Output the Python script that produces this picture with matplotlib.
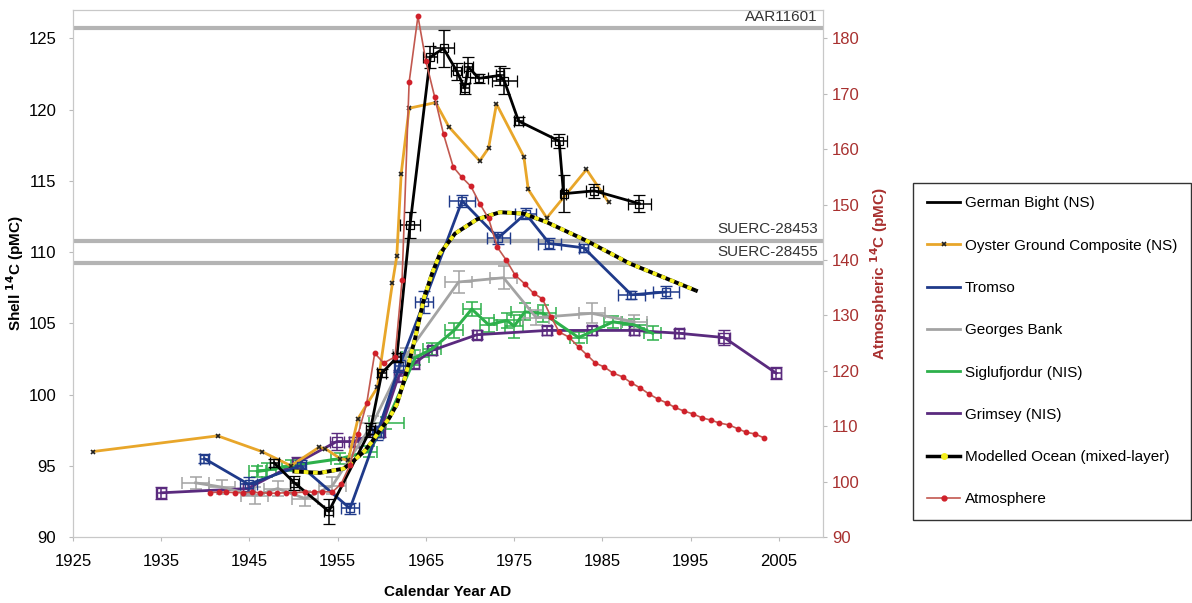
import matplotlib.pyplot as plt
from matplotlib.lines import Line2D
from matplotlib.transforms import blended_transform_factory

plt.rcParams['font.family'] = ['Liberation Sans', 'DejaVu Sans']

# German Bight (NS)
gb_year = [1947.8, 1950.1, 1954.0, 1958.7, 1960.0, 1961.7, 1963.2, 1965.5, 1967.0, 1968.5,
           1969.4, 1969.8, 1971.0, 1973.4, 1973.9, 1975.5, 1980.1, 1980.6, 1984.1, 1989.2]
gb_val = [95.2, 93.8, 91.8, 97.5, 101.5, 102.6, 111.9, 123.7, 124.3, 122.7,
          121.5, 123.0, 122.2, 122.4, 122.0, 119.2, 117.8, 114.1, 114.3, 113.4]
gb_yerr = [0.3, 0.5, 0.9, 0.5, 0.3, 0.3, 0.9, 0.8, 1.3, 0.6,
           0.4, 0.7, 0.3, 0.7, 0.9, 0.3, 0.5, 1.3, 0.5, 0.6]
gb_xerr = [0.5, 0.5, 0.5, 0.5, 0.5, 0.4, 1.1, 0.8, 1.2, 0.6,
           0.5, 0.5, 1.0, 0.5, 1.4, 0.5, 0.9, 0.3, 1.0, 1.3]

# Oyster Ground Composite (NS)
og_year = [1927.3, 1941.4, 1946.4, 1949.7, 1952.9, 1953.6, 1955.3, 1956.2, 1957.3, 1959.5,
           1961.2, 1961.7, 1962.2, 1963.1, 1966.1, 1967.6, 1971.1, 1972.1, 1973.0, 1976.1,
           1976.6, 1978.7, 1983.2, 1985.7]
og_val = [96.0, 97.1, 96.0, 95.0, 96.3, 96.2, 95.5, 95.4, 98.3, 100.5,
          107.8, 109.7, 115.5, 120.1, 120.5, 118.8, 116.4, 117.3, 120.4, 116.7,
          114.4, 112.4, 115.8, 113.5]

# Tromso
tr_year = [1939.9, 1944.9, 1950.8, 1956.4, 1959.5, 1962.0, 1964.8, 1969.1, 1973.2, 1976.3,
           1979.0, 1982.9, 1988.3, 1992.2]
tr_val = [95.5, 93.7, 95.0, 92.0, 97.3, 102.0, 106.5, 113.6, 111.0, 112.7,
          110.6, 110.3, 107.0, 107.2]
tr_yerr = [0.3, 0.5, 0.4, 0.4, 0.5, 0.4, 0.8, 0.4, 0.4, 0.4, 0.4, 0.3, 0.3, 0.4]
tr_xerr = [0.5, 1.0, 0.6, 1.0, 0.6, 0.6, 1.0, 1.5, 1.3, 1.2, 1.3, 0.5, 1.5, 1.5]

# Georges Bank
gk_year = [1938.9, 1941.9, 1945.6, 1948.2, 1951.3, 1954.4, 1959.0, 1962.8, 1968.7, 1973.8,
           1977.5, 1983.8, 1988.6]
gk_val = [93.8, 93.5, 92.9, 93.4, 92.7, 93.6, 98.0, 102.8, 107.9, 108.2,
          105.4, 105.7, 105.1]
gk_yerr = [0.4, 0.5, 0.6, 0.5, 0.5, 0.6, 0.5, 0.5, 0.8, 0.8, 0.5, 0.7, 0.5]
gk_xerr = [1.5, 1.5, 1.5, 1.5, 1.5, 1.5, 1.5, 1.5, 1.5, 1.5, 1.5, 1.5, 1.5]

# Siglufjordur (NIS)
sg_year = [1945.9, 1947.0, 1949.7, 1955.3, 1958.5, 1960.5, 1963.8, 1965.7, 1968.2, 1970.2,
           1972.1, 1974.2, 1975.0, 1976.2, 1978.3, 1982.3, 1986.2, 1988.6, 1990.7]
sg_val = [94.6, 94.7, 95.0, 95.5, 96.0, 98.0, 102.6, 103.2, 104.5, 106.0,
          104.9, 105.2, 104.8, 105.8, 105.7, 104.0, 105.1, 104.9, 104.3]
sg_yerr = [0.4, 0.5, 0.4, 0.4, 0.4, 0.4, 0.5, 0.4, 0.5, 0.5,
           0.5, 0.5, 0.8, 0.6, 0.6, 0.4, 0.4, 0.4, 0.5]
sg_xerr = [1.0, 1.0, 1.0, 1.0, 1.0, 2.0, 1.5, 1.0, 1.0, 1.0,
           1.0, 1.5, 1.0, 1.5, 1.5, 1.0, 1.0, 1.5, 1.0]

# Grimsey (NIS)
gr_year = [1935.0, 1944.8, 1950.4, 1954.9, 1956.8, 1959.8, 1961.9, 1963.7, 1965.7, 1970.8,
           1978.7, 1983.8, 1988.6, 1993.7, 1998.8, 2004.7]
gr_val = [93.1, 93.4, 95.2, 96.7, 96.7, 97.4, 101.3, 102.2, 103.1, 104.2,
          104.5, 104.5, 104.5, 104.3, 104.0, 101.5]
gr_yerr = [0.4, 0.4, 0.4, 0.6, 0.3, 0.4, 0.4, 0.4, 0.3, 0.3,
           0.3, 0.3, 0.3, 0.3, 0.5, 0.4]
gr_xerr = [0.5, 0.5, 0.5, 0.8, 0.5, 0.5, 0.5, 0.5, 0.5, 0.5,
           0.5, 0.5, 0.5, 0.5, 0.7, 0.5]

# Modelled Ocean (mixed-layer)
mo_year = [1950.1, 1953.0, 1955.7, 1956.9, 1958.0, 1958.9, 1959.8, 1960.8, 1961.7, 1962.6,
           1963.8, 1964.8, 1965.7, 1966.6, 1968.3, 1970.8, 1973.4, 1976.1, 1978.7, 1983.2,
           1988.1, 1995.6]
mo_val = [94.6, 94.5, 94.8, 95.4, 96.0, 96.7, 97.5, 98.3, 99.3, 101.1,
          104.0, 106.8, 108.5, 109.9, 111.3, 112.3, 112.8, 112.7, 112.1, 110.8,
          109.2, 107.3]

# Atmosphere (right axis)
at_year = [1940.5, 1941.5, 1942.4, 1943.4, 1944.3, 1945.3, 1946.2, 1947.2, 1948.1, 1949.2,
           1950.1, 1951.3, 1952.3, 1953.2, 1954.4, 1955.4, 1956.4, 1957.3, 1958.3, 1959.2,
           1960.2, 1961.5, 1962.3, 1963.1, 1964.1, 1965.0, 1966.0, 1967.0, 1968.1, 1969.1,
           1970.1, 1971.1, 1972.1, 1973.1, 1974.1, 1975.1, 1976.2, 1977.2, 1978.2, 1979.2,
           1980.1, 1981.2, 1982.3, 1983.3, 1984.2, 1985.2, 1986.2, 1987.3, 1988.3, 1989.3,
           1990.3, 1991.3, 1992.3, 1993.2, 1994.3, 1995.3, 1996.3, 1997.3, 1998.2, 1999.4,
           2000.4, 2001.3, 2002.3, 2003.3]
at_val = [98.0, 98.1, 98.1, 98.0, 98.0, 98.1, 98.0, 97.9, 97.9, 98.0,
          98.0, 98.1, 98.1, 98.2, 98.1, 99.6, 103.0, 108.5, 114.2, 123.2,
          121.4, 122.5, 136.4, 172.1, 184.0, 175.9, 169.4, 162.7, 156.8, 154.9,
          153.3, 150.2, 147.5, 142.3, 140.0, 137.3, 135.7, 134.0, 133.0, 129.7,
          127.0, 126.1, 124.3, 122.8, 121.4, 120.7, 119.6, 118.9, 117.8, 116.9,
          115.8, 114.9, 114.2, 113.4, 112.7, 112.2, 111.5, 111.1, 110.6, 110.2,
          109.5, 108.9, 108.6, 107.9]

# reference samples (horizontal lines)
ref_names = ['AAR11601', 'SUERC-28453', 'SUERC-28455']
ref_vals = [125.7, 110.8, 109.2]

c_og = '#E8A62A'
c_tr = '#1F3A8A'
c_gk = '#A3A3A3'
c_sg = '#2DB04B'
c_gr = '#5A2A7E'
c_atm_line = '#C2584F'
c_atm_dot = '#D0202A'
c_right = '#A8302F'
c_yel = '#F5F01E'

fig = plt.figure(figsize=(11.92, 6.03), dpi=100)
ax = fig.add_axes([0.0612, 0.1095, 0.6292, 0.874])

trans = blended_transform_factory(ax.transAxes, ax.transData)
for name, v in zip(ref_names, ref_vals):
    ax.axhline(v, color='#B4B4B4', lw=3, zorder=1)
    ax.text(0.993, v + 0.3, name, transform=trans, ha='right', va='bottom',
            fontsize=11, color='#333333')

eb = dict(capsize=4, elinewidth=1.1, capthick=1.1)
ax.errorbar(gr_year, gr_val, yerr=gr_yerr, xerr=gr_xerr, color=c_gr, lw=2,
            marker='s', ms=7, mfc='none', mew=1, zorder=3, **eb)
ax.errorbar(sg_year, sg_val, yerr=sg_yerr, xerr=sg_xerr, color=c_sg, lw=2.2,
            zorder=3, **eb)
ax.errorbar(gk_year, gk_val, yerr=gk_yerr, xerr=gk_xerr, color=c_gk, lw=2,
            zorder=3, **eb)
ax.errorbar(tr_year, tr_val, yerr=tr_yerr, xerr=tr_xerr, color=c_tr, lw=2,
            marker='s', ms=6, mfc='none', mew=1, zorder=4, **eb)
ax.plot(og_year, og_val, color=c_og, lw=2, marker='x', ms=3, mec='#222222',
        mew=1.2, zorder=4)
ax.errorbar(gb_year, gb_val, yerr=gb_yerr, xerr=gb_xerr, color='black', lw=2,
            marker='s', ms=6, mfc='none', mew=0.9, zorder=5, **eb)
ax.plot(mo_year, mo_val, color='black', lw=2.8, zorder=6)
ax.plot(mo_year, mo_val, color=c_yel, lw=2.8, dashes=(1.2, 1.2), zorder=7)

ax.set_xlim(1925, 2010)
ax.set_ylim(90, 127)
ax.set_xticks(range(1925, 2010, 10))
ax.set_yticks(range(90, 126, 5))
ax.tick_params(labelsize=12, length=3, color='#BBBBBB')
ax.tick_params(axis='x', pad=9)
ax.tick_params(axis='y', pad=9)
ax.set_xlabel('Calendar Year AD', fontsize=11, fontweight='bold', labelpad=12)
ax.set_ylabel(r'Shell $\mathbf{^{14}}$C (pMC)', fontsize=11, fontweight='bold',
              labelpad=2)

ax2 = ax.twinx()
ax2.plot(at_year, at_val, color=c_atm_line, lw=1.2, marker='o', ms=3.2,
         mfc=c_atm_dot, mec=c_atm_dot, zorder=8)
ax2.set_ylim(90, 90 + 37 * 90 / 35)
ax2.set_yticks(range(90, 181, 10))
ax2.tick_params(labelsize=12, length=3, color='#BBBBBB', labelcolor=c_right)
ax2.set_ylabel(r'Atmospheric $\mathbf{^{14}}$C (pMC)', fontsize=11,
               fontweight='bold', color=c_right, labelpad=6)

for a in (ax, ax2):
    for s in a.spines.values():
        s.set_color('#C8C8C8')
        s.set_linewidth(0.8)

handles = [
    Line2D([], [], color='black', lw=2),
    Line2D([], [], color=c_og, lw=2, marker='x', ms=3, mec='#222222', mew=1.2),
    Line2D([], [], color=c_tr, lw=2),
    Line2D([], [], color=c_gk, lw=2),
    Line2D([], [], color=c_sg, lw=2),
    Line2D([], [], color=c_gr, lw=2),
    Line2D([], [], color='black', lw=2.5, marker='o', ms=4, mfc=c_yel, mec=c_yel),
    Line2D([], [], color=c_atm_line, lw=1.2, marker='o', ms=3.5, mfc=c_atm_dot, mec=c_atm_dot),
]
labels = ['German Bight (NS)', 'Oyster Ground Composite (NS)', 'Tromso', 'Georges Bank',
          'Siglufjordur (NIS)', 'Grimsey (NIS)', 'Modelled Ocean (mixed-layer)', 'Atmosphere']
leg = fig.legend(handles, labels, loc='upper left', bbox_to_anchor=(0.766, 0.697),
                 fontsize=11, frameon=True, fancybox=False, edgecolor='black',
                 labelspacing=1.85, handlelength=2.2, handletextpad=0.3,
                 borderpad=0.9, borderaxespad=0)
leg.get_frame().set_linewidth(1.0)

fig.savefig('out.png', dpi=100)
